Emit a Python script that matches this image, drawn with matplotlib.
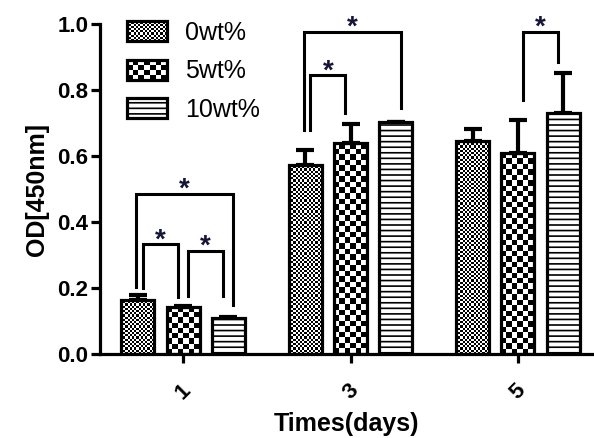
import numpy as np
import matplotlib
matplotlib.use('Agg')
import matplotlib.pyplot as plt
from matplotlib.patches import Rectangle
from matplotlib.legend_handler import HandlerBase

plt.rcParams['font.family'] = ['Liberation Sans', 'DejaVu Sans']
plt.rcParams['hatch.linewidth'] = 1.2

days = ['1', '3', '5']
groups = ['0wt%', '5wt%', '10wt%']
od_0 = [0.164, 0.573, 0.645]
od_5 = [0.142, 0.639, 0.609]
od_10 = [0.109, 0.703, 0.730]
err_0 = [0.015, 0.045, 0.037]
err_5 = [0.003, 0.058, 0.100]
err_10 = [0.003, 0.0, 0.122]

# significance brackets: day index, left bar, right bar, top, left leg end, right leg end
brackets = [
    (0, 0, 2, 0.485, 0.203, 0.148),
    (0, 0, 1, 0.333, 0.200, 0.173),
    (0, 1, 2, 0.312, 0.176, 0.176),
    (1, 0, 2, 0.976, 0.679, 0.745),
    (1, 0, 1, 0.845, 0.679, 0.730),
    (2, 1, 2, 0.976, 0.770, 0.885),
]

series = [od_0, od_5, od_10]
errors = [err_0, err_5, err_10]
# fill style per series: checker cell size in px, or None for horizontal lines
cells = [2.2, 5.5, None]

bar_w = 0.197
step = 0.27
lw = 2.3

fig = plt.figure(figsize=(5.94, 4.38), dpi=100)
ax = fig.add_axes([100 / 594, 84 / 438, 494 / 594, 330 / 438])
ax.set_xlim(-0.496, 2.454)
ax.set_ylim(0, 1.0)

x = np.arange(len(days))


def checker_fill(ax, x0, y0, w, h, cell):
    p0 = ax.transData.transform((x0, y0))
    p1 = ax.transData.transform((x0 + w, y0 + h))
    ncol = max(1, int(round((p1[0] - p0[0]) / cell)))
    nrow = max(1, int(round((p1[1] - p0[1]) / cell)))
    grid = np.add.outer(np.arange(nrow), np.arange(ncol)) % 2
    ax.imshow(grid, cmap='gray', vmin=0, vmax=1, extent=(x0, x0 + w, y0, y0 + h),
              aspect='auto', interpolation='nearest', origin='lower', zorder=2)


for i, (vals, errs, cell) in enumerate(zip(series, errors, cells)):
    xs = x + (i - 1) * step
    if cell is None:
        ax.bar(xs, vals, bar_w, facecolor='white', edgecolor='black', hatch='---',
               linewidth=lw, zorder=3)
    else:
        for xi, v in zip(xs, vals):
            checker_fill(ax, xi - bar_w / 2, 0, bar_w, v, cell)
        ax.bar(xs, vals, bar_w, facecolor='none', edgecolor='black', linewidth=lw, zorder=3)
    ax.errorbar(xs, vals, yerr=[np.zeros(len(vals)), errs], fmt='none', ecolor='black',
                elinewidth=3, capsize=6.8, capthick=3, zorder=2.5)

ax.set_xlim(-0.496, 2.454)
ax.set_ylim(0, 1.0)

for d, a, b, top, ya, yb in brackets:
    xa = x[d] + (a - 1) * step
    xb = x[d] + (b - 1) * step
    if b - a == 1:
        xa, xb = xa + 0.03, xb - 0.03
    else:
        xa, xb = xa - 0.01, xb + 0.03
    ax.plot([xa, xa, xb, xb], [ya, top, top, yb], color='black', lw=2.2,
            solid_joinstyle='miter', clip_on=False, zorder=4)
    ax.text((xa + xb) / 2, top + 0.012, '*', ha='center', va='center', fontsize=20,
            fontweight='bold', color='#15153a', clip_on=False, zorder=5)

ax.spines['top'].set_visible(False)
ax.spines['right'].set_visible(False)
ax.spines['left'].set_linewidth(lw)
ax.spines['bottom'].set_linewidth(lw)
ax.spines['bottom'].set_zorder(6)

ax.set_yticks([0.0, 0.2, 0.4, 0.6, 0.8, 1.0])
ax.set_yticklabels(['0.0', '0.2', '0.4', '0.6', '0.8', '1.0'])
ax.set_xticks(x)
ax.set_xticklabels(days, rotation=45, ha='center')
ax.tick_params(axis='both', width=lw, length=6.5, labelsize=16, pad=2)
ax.tick_params(axis='x', pad=12)
for t in ax.get_xticklabels() + ax.get_yticklabels():
    t.set_fontweight('bold')

ax.set_ylabel('OD[450nm]', fontsize=18, fontweight='bold', labelpad=6)
ax.set_xlabel('Times(days)', fontsize=18, fontweight='bold', labelpad=6)


class Swatch:
    def __init__(self, cell):
        self.cell = cell


class SwatchHandler(HandlerBase):
    def create_artists(self, legend, orig_handle, xdescent, ydescent, width, height,
                       fontsize, trans):
        x0, y0 = -xdescent, -ydescent
        arts = []
        if orig_handle.cell is None:
            arts.append(Rectangle((x0, y0), width, height, facecolor='white',
                                  edgecolor='black', hatch='---', lw=lw, transform=trans))
            return arts
        ncol = int(round(width * 100 / 72 / orig_handle.cell))
        nrow = int(round(height * 100 / 72 / orig_handle.cell))
        cw, ch = width / ncol, height / nrow
        arts.append(Rectangle((x0, y0), width, height, facecolor='white',
                              edgecolor='none', transform=trans))
        for r in range(nrow):
            for c in range(ncol):
                if (r + c) % 2 == 0:
                    arts.append(Rectangle((x0 + c * cw, y0 + r * ch), cw, ch,
                                          facecolor='black', edgecolor='none',
                                          transform=trans))
        arts.append(Rectangle((x0, y0), width, height, facecolor='none',
                              edgecolor='black', lw=lw, transform=trans))
        return arts


handles = [Swatch(c) for c in cells]
fig.legend(handles, groups, handler_map={Swatch: SwatchHandler()},
           loc='upper left', bbox_to_anchor=(127 / 594, 1 - 21 / 438),
           frameon=False, fontsize=18, handlelength=1.6, handleheight=0.84,
           handletextpad=0.72, labelspacing=0.58, borderpad=0, borderaxespad=0)

fig.savefig('out.png', dpi=100)
